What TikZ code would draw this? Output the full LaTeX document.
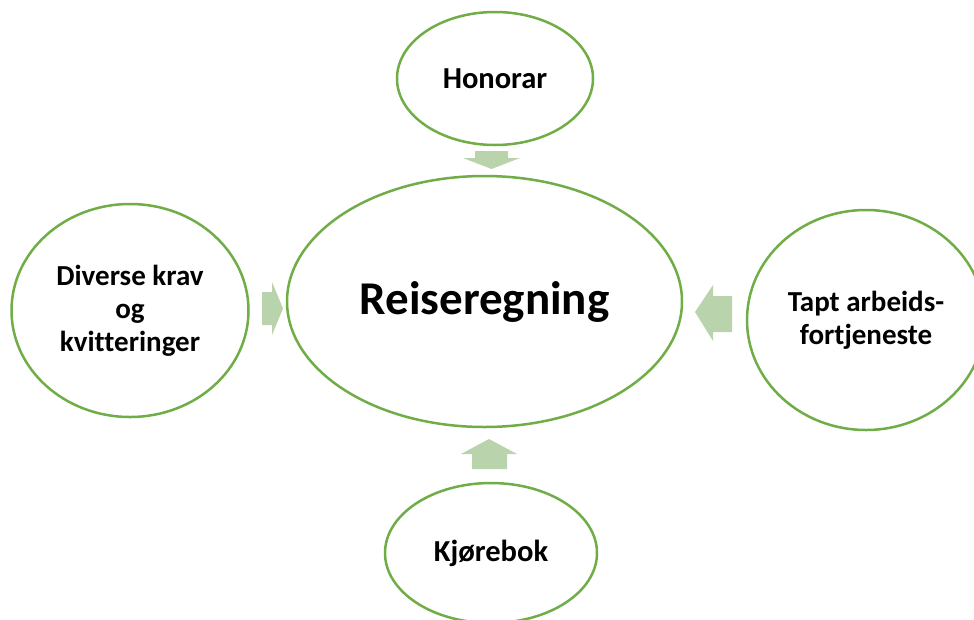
\documentclass[tikz,border=0pt]{standalone}
\usepackage{fontspec}
\setmainfont[Ligatures=NoCommon]{Carlito}
\usetikzlibrary{shapes.geometric}
\definecolor{ringgreen}{HTML}{70AD47}
\definecolor{arrowgreen}{HTML}{B9D4AD}
\begin{document}
\begin{tikzpicture}[x=1pt,y=-1pt,
  bubble/.style={ellipse, draw=ringgreen, line width=2.5pt, fill=white,
    inner sep=0pt, align=center, font=\bfseries\fontsize{29}{33}\selectfont},
  blockarrow/.style={fill=arrowgreen, draw=none}]
\useasboundingbox (0,0) rectangle (974,619);
\clip (0,0) rectangle (974,619);

% block arrows pointing to the centre
\path[blockarrow] (475,151) -- (508,151) -- (508,158) -- (520,158) -- (491.5,169)
  -- (463,158) -- (475,158) -- cycle;
\path[blockarrow] (732,296) -- (732,332) -- (713,332) -- (713,341) -- (695,312)
  -- (713,285) -- (713,296) -- cycle;
\path[blockarrow] (262,292) -- (272,292) -- (272,282) -- (283,308.5) -- (272,335)
  -- (272,325) -- (262,325) -- cycle;
\path[blockarrow] (472,469) -- (472,454) -- (461,454) -- (489,439) -- (517,454)
  -- (507,454) -- (507,469) -- cycle;

% bubbles
\node[bubble, minimum width=395pt, minimum height=251pt,
  font=\bfseries\fontsize{47}{52}\selectfont] (centre) at (484.5,301.5) {Reiseregning};
\node[bubble, minimum width=196pt, minimum height=133pt,
  font=\bfseries\fontsize{30.5}{34}\selectfont] (honorar) at (495,78.5) {Honorar};
\node[bubble, minimum width=237pt, minimum height=213pt] (diverse) at (130,310.5)
  {Diverse krav\\og\\kvitteringer};
\node[bubble, minimum width=238pt, minimum height=220pt] (tapt) at (866,320)
  {Tapt arbeids-\\fortjeneste};
\node[bubble, minimum width=212pt, minimum height=140pt,
  font=\bfseries\fontsize{30.5}{34}\selectfont] (kjorebok) at (491,553) {Kjørebok};
\end{tikzpicture}
\end{document}
